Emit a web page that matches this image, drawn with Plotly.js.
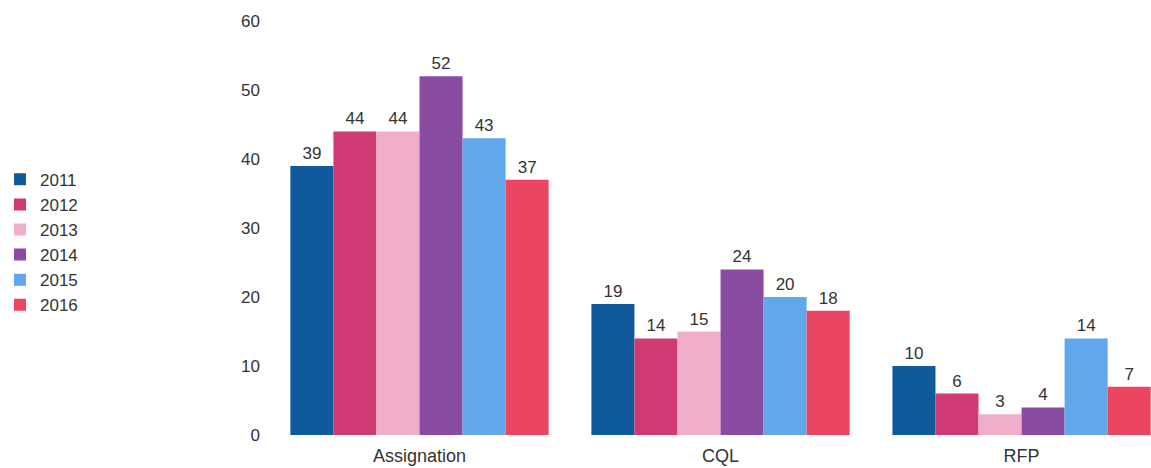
<!DOCTYPE html>
<html>
<head>
<meta charset="utf-8">
<script src="https://cdn.plot.ly/plotly-3.0.1.min.js"></script>
<style>html,body{margin:0;padding:0;background:#fff;}#chart{width:1151px;height:468px;}</style>
</head>
<body>
<div id="chart"></div>
<script>
const categories = ["Assignation", "CQL", "RFP"];
const years = ["2011", "2012", "2013", "2014", "2015", "2016"];
const v2011 = [39, 19, 10];
const v2012 = [44, 14, 6];
const v2013 = [44, 15, 3];
const v2014 = [52, 24, 4];
const v2015 = [43, 20, 14];
const v2016 = [37, 18, 7];
const colors = ["#0f5a9b", "#cf3a75", "#f0aecb", "#8a4ba3", "#61a7ec", "#ec4562"];

const series = [v2011, v2012, v2013, v2014, v2015, v2016];
const traces = series.map((vals, i) => ({
  type: "bar",
  name: years[i],
  x: categories,
  y: vals,
  text: vals.map(String),
  textposition: "outside",
  cliponaxis: false,
  constraintext: "none",
  textfont: {family: "Liberation Sans, Arial, sans-serif", size: 17, color: "#333"},
  marker: {color: colors[i]},
  hoverinfo: "none"
}));

const layout = {
  width: 1151,
  height: 468,
  margin: {l: 269, r: 0, t: 21, b: 33, autoexpand: false},
  paper_bgcolor: "#fff",
  plot_bgcolor: "#fff",
  barmode: "group",
  bargap: 0.142,
  bargroupgap: 0,
  font: {family: "Liberation Sans, Arial, sans-serif", size: 17, color: "#333"},
  xaxis: {
    range: [-0.5, 2.43],
    showgrid: false,
    zeroline: false,
    showline: false,
    ticks: "",
    ticklabelstandoff: 8,
    tickfont: {size: 18, color: "#333"}
  },
  yaxis: {
    range: [0, 60],
    dtick: 10,
    showgrid: false,
    zeroline: false,
    showline: false,
    ticks: "",
    ticklabelstandoff: 8,
    tickfont: {size: 17, color: "#333"}
  },
  showlegend: true,
  legend: {
    xref: "container",
    x: 0,
    xanchor: "left",
    y: 0.66,
    yanchor: "top",
    font: {size: 17, color: "#333"},
    tracegroupgap: 0,
    bgcolor: "rgba(0,0,0,0)"
  }
};

Plotly.newPlot("chart", traces, layout, {displayModeBar: false, staticPlot: true});
</script>
</body>
</html>
